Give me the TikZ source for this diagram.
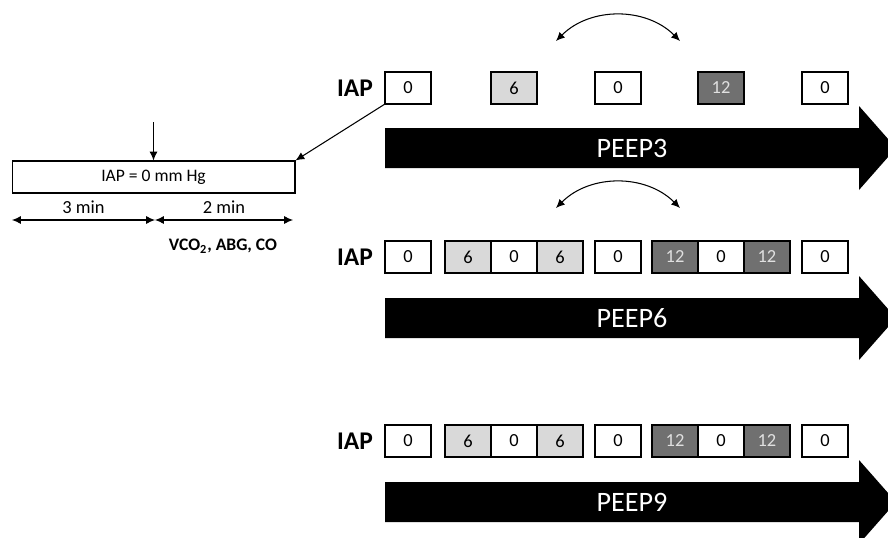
\documentclass[tikz,border=0pt]{standalone}
\usepackage{fontspec}
\setmainfont{Carlito}
\usetikzlibrary{arrows.meta, positioning}
\definecolor{lowgray}{RGB}{217, 217, 217}
\definecolor{highgray}{RGB}{112, 112, 112}

\begin{document}
\begin{tikzpicture}[
    x=0.02cm, y=-0.02cm,
    iap/.style={draw, line width=0.9pt, minimum width=0.92cm, minimum height=0.64cm,
                inner sep=0pt, outer sep=0pt, font=\fontsize{10.5}{12}\selectfont},
    low/.style={iap, fill=lowgray},
    high/.style={iap, fill=highgray, text=white!88!black},
    rowlabel/.style={font=\fontsize{14.5}{16}\selectfont\bfseries},
    arr/.style={-{Latex[length=5pt, width=4.5pt]}, line width=0.6pt},
    dim/.style={{Latex[length=5pt, width=4.5pt]}-{Latex[length=5pt, width=4.5pt]}, line width=0.6pt},
    peep/.style={text=white, font=\fontsize{16}{19}\selectfont}
]
    \useasboundingbox (0,0) rectangle (888,537);

    % baseline period
    \node[draw, line width=0.6pt, minimum width=5.66cm, minimum height=0.64cm, inner sep=0pt,
          font=\fontsize{10}{12}\selectfont] (base) at (153.5,177) {IAP = 0 mm Hg};
    \coordinate (drop) at (153.5,122);
    \draw[arr] (drop) -- (base.north);
    \coordinate (t0) at (12,220);
    \coordinate (t3) at (155,220);
    \coordinate (t5) at (293,220);
    \draw[dim] (t0) -- node[above=0pt, font=\fontsize{10.5}{12}\selectfont] {3 min} (t3);
    \draw[dim] (t3) -- node[above=0pt, font=\fontsize{10.5}{12}\selectfont] {2 min} (t5);
    \node[font=\fontsize{10}{12}\selectfont\bfseries] (meas) at (223,246) {VCO\textsubscript{2}, ABG, CO};

    % big PEEP arrows
    \foreach \y/\lab in {148/PEEP3, 318/PEEP6, 502/PEEP9} {
        \fill[black] (385,\y-20) -- (859,\y-20) -- (859,\y-42) -- (896,\y)
            -- (859,\y+42) -- (859,\y+20) -- (385,\y+20) -- cycle;
        \node[peep] (\lab) at (632,\y) {\lab};
    }

    % PEEP3 row
    \node[iap] (b10) at (408,88) {0};
    \node[rowlabel, left=0.12cm of b10] (iap1) {IAP};
    \node[low] (b11) at (514,88) {6};
    \node[iap] (b12) at (618,88) {0};
    \node[high] (b13) at (721,88) {12};
    \node[iap] (b14) at (825,88) {0};
    \draw[arr] (b10.south west) -- (base.north east);

    % PEEP6 and PEEP9 rows
    \foreach \r/\y in {2/257, 3/441} {
        \node[iap] (b\r0) at (408,\y) {0};
        \node[rowlabel, left=0.12cm of b\r0] (iap\r) {IAP};
        \node[low] (b\r1) at (468,\y) {6};
        \node[iap, right=0pt of b\r1] (b\r2) {0};
        \node[low, right=0pt of b\r2] (b\r3) {6};
        \node[iap] (b\r4) at (618,\y) {0};
        \node[high] (b\r5) at (675,\y) {12};
        \node[iap, right=0pt of b\r5] (b\r6) {0};
        \node[high, right=0pt of b\r6] (b\r7) {12};
        \node[iap] (b\r8) at (825,\y) {0};
    }

    % order swap
    \coordinate (sw1l) at (556,41);
    \coordinate (sw1r) at (680,41);
    \draw[dim] (sw1l) to[bend left=45] (sw1r);
    \coordinate (sw2l) at (556,208);
    \coordinate (sw2r) at (680,208);
    \draw[dim] (sw2l) to[bend left=45] (sw2r);
\end{tikzpicture}
\end{document}
